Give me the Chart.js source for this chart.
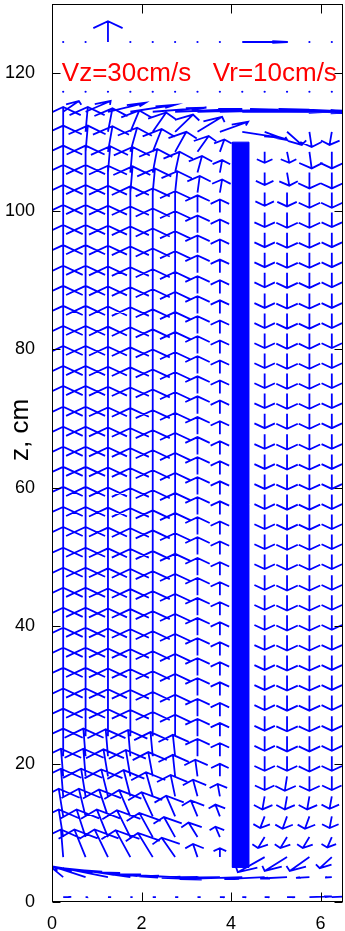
<!DOCTYPE html>
<html><head><meta charset="utf-8">
<script src="https://cdn.jsdelivr.net/npm/chart.js@4.4.1/dist/chart.umd.min.js"></script>
<style>html,body{margin:0;padding:0;background:#fff;overflow:hidden;width:345px;height:931px}canvas{display:block}</style>
</head><body><canvas id="c" width="347" height="931" style="width:347px;height:931px"></canvas>
<script>
// radial grid positions (r, cm) and axial rows (z, cm)
const rCols = [0.25, 0.75, 1.25, 1.75, 2.25, 2.75, 3.25, 3.75, 4.25, 4.75, 5.25, 5.75, 6.25];
const zRows = [0.7, 3.6, 6.5, 9.4, 12.4, 15.3, 18.2, 21.1, 24.0, 26.9, 29.9, 32.8, 35.7, 38.6, 41.5, 44.4, 47.3, 50.3, 53.2, 56.1, 59.0, 61.9, 64.8, 67.7, 70.7, 73.6, 76.5, 79.4, 82.3, 85.2, 88.1, 91.1, 94.0, 96.9, 99.8, 102.7, 105.6, 108.6, 111.5, 114.4, 117.3];

// radial velocity Vr (cm/s), one row per zRows entry
const vrBottom = [
  [1.8, 0.5, 0.7, 0.5, 0.7, 0.7, 0.7, 1.1, 0.9, 1.1, 1.8, 5, 6],
  [-3, -7, -10, -11, -12, -12, -13, -13, -14, -9, -6, -3, -1.5],
  [-0.5, -2.5, -3, -3.3, -3.3, -3, -1, 0, 0, -6, -5, -4.4, -2.7],
  [-1, -2, -2.5, -3, -3, -2.5, -2, -1, 0, -1.5, -1.5, -1.5, -1],
  [-1, -1.5, -2, -2.5, -2.5, -2, -1.5, -1, 0, -1, -1, -1, -0.5],
  [-0.5, -1, -1.5, -1.5, -1.5, -1, -1, -0.5, 0, -0.5, -0.5, -0.5, -0.5],
  [-0.5, -0.5, -1, -1, -1, -0.5, -0.5, 0, 0, 0, -0.5, 0, 0],
  [0, -0.5, -0.5, -0.5, -0.5, -0.5, 0, 0, 0, 0, 0, 0, 0]
];
const vrMiddle = [0, 0, 0, 0, 0, 0, 0, 0, 0, 0, 0, 0, 0];
const vrTop = [
  [0, 0, 0, 0.5, 0.5, 0.5, 0.5, 0.5, 0, 0, 0, 0, 0],
  [0, 0, 0.5, 0.5, 1, 1, 1, 0.5, 0, 0, 0.5, 0, 0],
  [0, 0.5, 1, 1.5, 2, 2.5, 2.5, 1, 0, 0, 0.5, 0.5, 0],
  [0, 0.5, 1, 2, 3, 4, 5.5, 6.3, 8.7, 5, 3.3, 0.5, -0.5],
  [3.5, 5.6, 8.4, 10, 12, 15, 18, 20, 22, 22, 21, 19, 16],
  [0, 0, 0, 0, 0, 0, 0, 0, 0, 0, 0, 0, 0]
];
// axial velocity Vz (cm/s)
const vzBottom = [
  [0.3, 0, 0, 0, 0, 0, 0, 0, 0, 0, 0, 1, 2],
  [16, 15, 13, 10, 7, 4, 1, -1, -3, -3, -2, -1, -0.5],
  [40, 40, 40, 39, 35, 28, 19, 13, 0, -22, -20, -20, -16],
  [40, 40, 40, 39, 35, 29, 21, 15, 0, -16, -16, -16, -15],
  [40, 40, 39, 38, 35, 30, 23, 17, 0, -17, -18, -18, -17],
  [40, 40, 39, 38, 35, 31, 24, 18, 0, -19, -19, -19, -18],
  [40, 40, 39, 38, 35, 31, 24, 18, 0, -20, -21, -21, -20],
  [40, 40, 39, 38, 35, 31, 25, 19, 0, -21, -21, -22, -21]
];
const vzMiddle = [40, 40, 39, 38, 35, 31, 25, 19, 0, -21, -22, -22, -21];
const vzTop = [
  [40, 40, 39, 38, 35, 31, 24, 19, 0, -19, -20, -22, -22],
  [39, 39, 38, 37, 34, 30, 24, 18, 0, -18, -19, -23, -23],
  [38, 38, 37, 35, 33, 29, 23, 18, 0, -16, -16, -24, -24],
  [36, 36, 34, 31, 28, 25, 21.7, 14.5, -8.7, -12, -19, -22, -19],
  [15.6, 15.6, 13, 10, 6, 4, 3, 3, 1, 0, -1, -2, -3],
  [0, 0, 0, 0, 0, 0, 0, 0, 0, 0, 0, 0, 0]
];
// reference (key) row: Vz = 30 cm/s and Vr = 10 cm/s
const refZ = 124.5;
const refVr = [0, 0, 0, 0, 0, 0, 0, 0, 10, 0, 0, 0, 0];
const refVz = [0, 0, 30, 0, 0, 0, 0, 0, 0, 0, 0, 0, 0];
// draft tube wall
const baffleR = [4.03, 4.4];
const baffleZ = [5, 110];
const xTickValues = [0, 2, 4, 6];
const yTickValues = [0, 20, 40, 60, 80, 100, 120];
const keyText = 'Vz=30cm/s   Vr=10cm/s';
const yTitle = 'z, cm';

const quiverScale = 0.1, alpha = 0.33, beta = 0.33;
const nMid = zRows.length - vrBottom.length - vrTop.length;
const vrRows = vrBottom.concat(Array.from({length: nMid}, () => vrMiddle), vrTop);
const vzRows = vzBottom.concat(Array.from({length: nMid}, () => vzMiddle), vzTop);

const arrowPts = [], dotPts = [];
const allRows = zRows.map((z, k) => ({z, u: vrRows[k], v: vzRows[k]})).concat([{z: refZ, u: refVr, v: refVz}]);
allRows.forEach(row => {
  rCols.forEach((x, i) => {
    const u = row.u[i] * quiverScale, v = row.v[i] * quiverScale, y = row.z;
    if (u === 0 && v === 0) { dotPts.push({x, y}); return; }
    const e = 1e-9;
    arrowPts.push({x, y}, {x: x + u, y: y + v}, {x: x + u, y: null});
    arrowPts.push(
      {x: x + u - alpha * (u + beta * (v + e)), y: y + v - alpha * (v - beta * (u + e))},
      {x: x + u, y: y + v},
      {x: x + u - alpha * (u - beta * (v + e)), y: y + v - alpha * (v + beta * (u + e))},
      {x: x + u, y: null});
  });
});
const bafflePts = [
  {x: baffleR[0], y: baffleZ[0]}, {x: baffleR[1], y: baffleZ[0]},
  {x: baffleR[1], y: baffleZ[1]}, {x: baffleR[0], y: baffleZ[1]}, {x: baffleR[0], y: baffleZ[0]}];

const FONT = '"Liberation Sans", Arial, sans-serif';

const framePlugin = {
  id: 'frame',
  afterDatasetsDraw(chart) {
    const {ctx, chartArea: a, scales: {x, y}} = chart;
    ctx.save();
    ctx.strokeStyle = '#000'; ctx.lineWidth = 1;
    const L = Math.round(a.left) + 0.5, R = Math.round(a.right) - 0.5, T = Math.round(a.top) + 0.5, B = Math.round(a.bottom) - 0.5;
    ctx.strokeRect(L, T, R - L, B - T);
    ctx.beginPath();
    xTickValues.forEach(t => {
      const px = Math.round(x.getPixelForValue(t)) + 0.5;
      ctx.moveTo(px, B); ctx.lineTo(px, B - 9);
      ctx.moveTo(px, T); ctx.lineTo(px, T + 9);
    });
    yTickValues.forEach(t => {
      const py = Math.round(y.getPixelForValue(t)) + 0.5;
      ctx.moveTo(L, py); ctx.lineTo(L + 8, py);
      ctx.moveTo(R, py); ctx.lineTo(R - 8, py);
    });
    ctx.stroke();
    // key text
    ctx.fillStyle = '#ff0000';
    ctx.font = '26px ' + FONT;
    ctx.textBaseline = 'middle'; ctx.textAlign = 'left';
    ctx.fillText(keyText, x.getPixelForValue(0.22), y.getPixelForValue(120) + 1);
    // y title
    ctx.fillStyle = '#000';
    ctx.font = '26px ' + FONT;
    ctx.translate(21, 430); ctx.rotate(-Math.PI / 2);
    ctx.textAlign = 'center'; ctx.textBaseline = 'middle';
    ctx.fillText(yTitle, 0, 0);
    ctx.restore();
  }
};

new Chart(document.getElementById('c'), {
  type: 'scatter',
  data: {datasets: [
    {data: bafflePts, showLine: true, fill: 'shape', backgroundColor: '#0000ff', borderColor: '#0000ff', borderWidth: 1, pointRadius: 0, order: 0},
    {data: arrowPts, showLine: true, spanGaps: false, borderColor: '#0000ff', borderWidth: 1.8, pointRadius: 0, tension: 0, order: 2},
    {data: dotPts, showLine: false, pointRadius: 1.1, pointBackgroundColor: '#0000ff', pointBorderWidth: 0, order: 3}
  ]},
  options: {
    responsive: false, animation: false, events: [],
    layout: {padding: {top: 3, right: 1, left: 0, bottom: 0}},
    plugins: {legend: {display: false}, tooltip: {enabled: false}},
    scales: {
      x: {type: 'linear', min: 0, max: 6.5, position: 'bottom',
          afterFit(s) { s.height = 29; s.paddingLeft = 0; s.paddingRight = 0; s.paddingTop = 0; s.paddingBottom = 0; },
          afterBuildTicks(s) { s.ticks = xTickValues.map(v => ({value: v})); },
          grid: {display: false}, border: {display: false},
          ticks: {color: '#000', font: {family: FONT, size: 18}, padding: 3, maxRotation: 0}},
      y: {type: 'linear', min: 0, max: 130,
          afterFit(s) { s.width = 52; s.paddingTop = 0; s.paddingBottom = 0; s.paddingLeft = 0; s.paddingRight = 0; },
          afterBuildTicks(s) { s.ticks = yTickValues.map(v => ({value: v})); },
          grid: {display: false}, border: {display: false},
          ticks: {color: '#000', font: {family: FONT, size: 18}, padding: 9}}
    }
  },
  plugins: [framePlugin]
});
</script></body></html>
